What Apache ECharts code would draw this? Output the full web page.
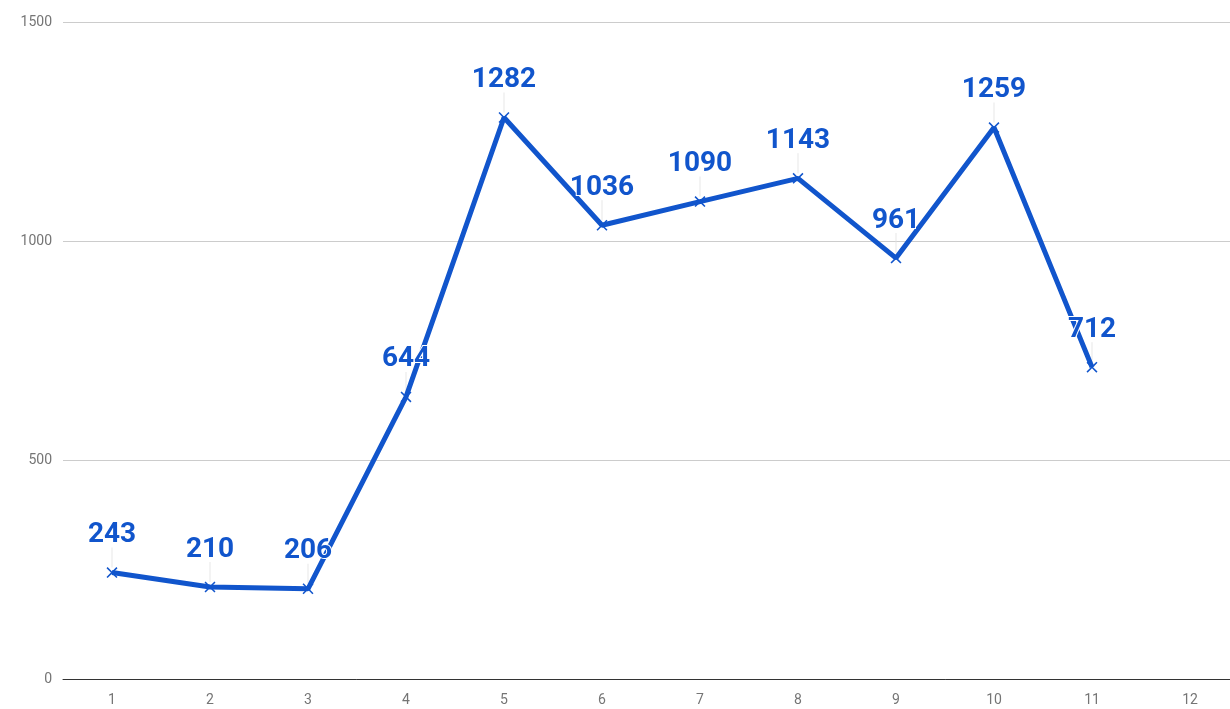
<!DOCTYPE html>
<html>
<head>
<meta charset="utf-8">
<title>chart</title>
<style>
  html, body { margin: 0; padding: 0; background: #fff; overflow: hidden; }
  #box { width: 1239px; height: 709px; }
</style>
</head>
<body>
<div id="box"></div>
<script src="https://cdn.jsdelivr.net/npm/echarts@6/dist/echarts.min.js"></script>
<script>
  var categories = ['1', '2', '3', '4', '5', '6', '7', '8', '9', '10', '11', '12'];
  var values = [243, 210, 206, 644, 1282, 1036, 1090, 1143, 961, 1259, 712, null];
  var yTicks = [0, 500, 1000, 1500];

  var blue = '#1155cc';
  // small x-shaped marker
  var cross = 'path://M0,1L1,0L5,4L9,0L10,1L6,5L10,9L9,10L5,6L1,10L0,9L4,5Z';

  var chart = echarts.init(document.getElementById('box'));
  chart.setOption({
    animation: false,
    grid: { left: 63, top: 22, bottom: 30, right: 0 },
    xAxis: {
      type: 'category',
      data: categories,
      boundaryGap: true,
      axisLine: { lineStyle: { color: '#333', width: 1 } },
      axisTick: { show: false },
      axisLabel: { color: '#757575', fontSize: 14, fontFamily: 'Roboto', margin: 14 }
    },
    yAxis: {
      type: 'value',
      min: yTicks[0],
      max: yTicks[yTicks.length - 1],
      interval: 500,
      axisLine: { show: false },
      axisTick: { show: false },
      axisLabel: {
        color: '#757575', fontSize: 14, fontFamily: 'Roboto', margin: 11,
        formatter: function (v) { return String(v); }
      },
      splitLine: { lineStyle: { color: '#cccccc' } }
    },
    series: [{
      // thin grey leader lines between points and their labels
      type: 'scatter',
      data: values,
      symbol: 'rect',
      symbolSize: [1, 20],
      symbolOffset: [0, -15],
      itemStyle: { color: '#e0e0e0' },
      silent: true,
      z: 1
    }, {
      type: 'line',
      data: values,
      connectNulls: false,
      symbol: cross,
      symbolSize: 11,
      showAllSymbol: true,
      itemStyle: { color: blue },
      lineStyle: { color: blue, width: 5 },
      z: 2,
      label: {
        show: true,
        position: 'top',
        distance: 18,
        color: blue,
        fontFamily: 'Roboto',
        fontWeight: 'bold',
        fontSize: 28,
        textBorderColor: '#fff',
        textBorderWidth: 2
      }
    }]
  });
</script>
</body>
</html>
